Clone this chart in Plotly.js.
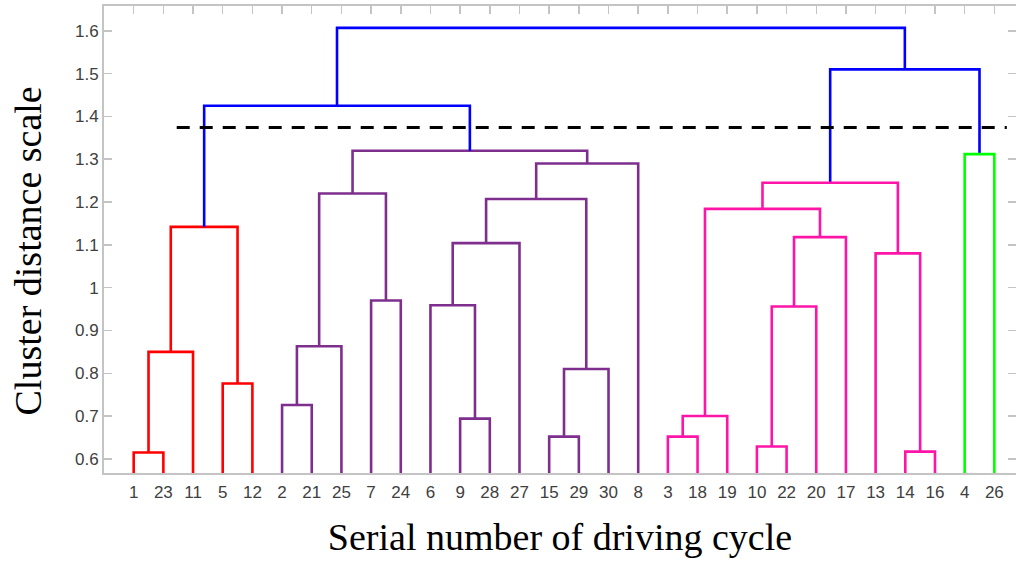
<!DOCTYPE html>
<html>
<head>
<meta charset="utf-8">
<script src="https://cdn.plot.ly/plotly-3.0.1.min.js"></script>
<style>html,body{margin:0;padding:0;background:#fff;}#chart{width:1016px;height:561px;}</style>
</head>
<body>
<div id="chart"></div>
<script>
// ---- DATA ----
// Linkage: each merge joins childA and childB at mergeHeight.
// Numbers are driving-cycle serial numbers (leaves); 'mK' refers to merge K.
const mergeA = [1, 'm0', 5, 'm1', 2, 'm4', 7, 'm5', 9, 6, 'm9', 15, 'm11', 'm10', 'm13', 'm7', 'm3',
                3, 'm17', 10, 'm19', 'm20', 'm18', 14, 13, 'm22', 4, 'm25', 'm16'];
const mergeB = [23, 11, 12, 'm2', 21, 25, 24, 'm6', 28, 'm8', 27, 29, 30, 'm12', 8, 'm14', 'm15',
                18, 19, 22, 20, 17, 'm21', 16, 'm23', 'm24', 26, 'm26', 'm27'];
const mergeHeight = [0.615, 0.850, 0.776, 1.142, 0.726, 0.863, 0.970, 1.220, 0.694, 0.959, 1.104, 0.652, 0.810, 1.207, 1.290, 1.320, 1.425,
                     0.652, 0.700, 0.629, 0.956, 1.118, 1.184, 0.617, 1.080, 1.245, 1.312, 1.510, 1.607];
const cutoffLevel = 1.374;        // dashed threshold line
const cutoffSpan = [2.45, 30.42]; // in leaf-slot units
const yTickValues = [0.6, 0.7, 0.8, 0.9, 1, 1.1, 1.2, 1.3, 1.4, 1.5, 1.6];
const yTickLabels = ['0.6', '0.7', '0.8', '0.9', '1', '1.1', '1.2', '1.3', '1.4', '1.5', '1.6'];
const xTitle = 'Serial number of driving cycle';
const yTitle = 'Cluster distance scale';

// ---- STYLES ----
const clusterColors = ['#ff0000', '#7e2f8e', '#ff14a8', '#00ff00'];
const aboveColor = '#0000ff';

// ---- BUILD TREE ----
const nMerge = mergeHeight.length;
const rootId = 'm' + (nMerge - 1);
function mergeIndex(id) { return parseInt(id.slice(1), 10); }
function isMerge(id) { return typeof id === 'string'; }

// leaf order by depth-first traversal
const leafOrder = [];
(function walk(id) {
  if (!isMerge(id)) { leafOrder.push(id); return; }
  const k = mergeIndex(id);
  walk(mergeA[k]); walk(mergeB[k]);
})(rootId);
const leafPos = {};
leafOrder.forEach((leaf, i) => { leafPos[leaf] = i + 1; });

const nodeX = {}, nodeH = {};
function pos(id) {
  if (!isMerge(id)) return [leafPos[id], 0];
  if (nodeX[id] === undefined) {
    const k = mergeIndex(id);
    const a = pos(mergeA[k]), b = pos(mergeB[k]);
    nodeX[id] = (a[0] + b[0]) / 2;
    nodeH[id] = mergeHeight[k];
  }
  return [nodeX[id], nodeH[id]];
}
pos(rootId);

// cluster assignment: roots of subtrees below cutoff
const mergeColor = new Array(nMerge).fill(aboveColor);
let clusterCount = 0;
(function assign(id, colorIdx) {
  if (!isMerge(id)) return;
  const k = mergeIndex(id);
  let c = colorIdx;
  if (c === null && mergeHeight[k] < cutoffLevel) { c = clusterCount++; }
  mergeColor[k] = (c === null) ? aboveColor : clusterColors[c % clusterColors.length];
  assign(mergeA[k], c); assign(mergeB[k], c);
})(rootId, null);

// group link segments by colour
const groups = {};
for (let k = 0; k < nMerge; k++) {
  const a = pos(mergeA[k]), b = pos(mergeB[k]);
  const h = mergeHeight[k];
  const col = mergeColor[k];
  if (!groups[col]) groups[col] = { x: [], y: [] };
  groups[col].x.push(a[0], a[0], b[0], b[0], null);
  groups[col].y.push(a[1], h, h, b[1], null);
}

const traces = Object.keys(groups).map(col => ({
  type: 'scatter', mode: 'lines', x: groups[col].x, y: groups[col].y,
  line: { color: col, width: 2.6 }, hoverinfo: 'skip', showlegend: false
}));
traces.push({
  type: 'scatter', mode: 'lines', x: cutoffSpan, y: [cutoffLevel, cutoffLevel],
  line: { color: '#000000', width: 3, dash: '13px,10px' }, hoverinfo: 'skip', showlegend: false
});

const axisGray = '#c4c4c4';
const titleFont = { family: 'Liberation Serif, Times New Roman, serif', size: 38, color: '#000000' };
const layout = {
  width: 1016, height: 561,
  margin: { l: 104, r: 0, t: 6, b: 88 },
  paper_bgcolor: '#ffffff', plot_bgcolor: '#ffffff',
  showlegend: false,
  xaxis: {
    range: [0, 30.73],
    tickmode: 'array',
    tickvals: leafOrder.map((_, i) => i + 1),
    ticktext: leafOrder.map(String),
    ticks: 'inside', ticklen: 8, tickwidth: 1.5, tickcolor: axisGray,
    showline: true, linecolor: axisGray, linewidth: 2, mirror: 'ticks',
    layer: 'below traces',
    showgrid: false, zeroline: false,
    tickfont: { family: 'Liberation Sans, Arial, sans-serif', size: 17, color: '#404040' },
    ticklabelstandoff: 3,
    automargin: false,
    title: { text: xTitle, standoff: 22, font: titleFont }
  },
  yaxis: {
    range: [0.567, 1.658],
    tickmode: 'array', tickvals: yTickValues, ticktext: yTickLabels,
    ticks: 'inside', ticklen: 8, tickwidth: 1.5, tickcolor: axisGray,
    showline: true, linecolor: axisGray, linewidth: 2, mirror: 'ticks',
    layer: 'below traces',
    showgrid: false, zeroline: false,
    automargin: false,
    tickfont: { family: 'Liberation Sans, Arial, sans-serif', size: 17, color: '#404040' }
  },
  annotations: [{
    text: yTitle, textangle: -90, font: titleFont, showarrow: false,
    xref: 'paper', yref: 'paper', x: -0.083, y: 0.475,
    xanchor: 'center', yanchor: 'middle'
  }]
};

Plotly.newPlot('chart', traces, layout, { displayModeBar: false, staticPlot: true });
</script>
</body>
</html>
